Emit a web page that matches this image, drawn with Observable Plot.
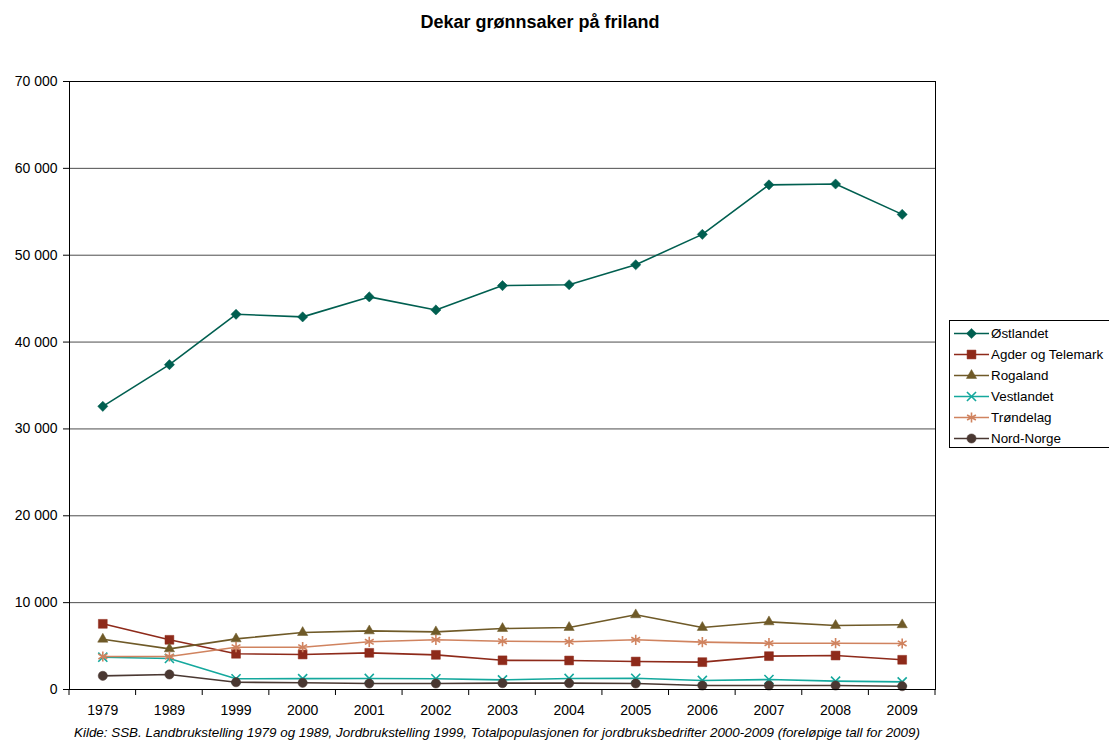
<!DOCTYPE html>
<html>
<head>
<meta charset="utf-8">
<script src="https://cdn.jsdelivr.net/npm/d3@7"></script>
<script src="https://cdn.jsdelivr.net/npm/@observablehq/plot@0.6"></script>
<style>
  body { margin: 0; background: #fff; font-family: "Liberation Sans", Arial, sans-serif; }
  #wrap { position: relative; width: 1109px; height: 742px; overflow: hidden; }
  #title { width: 1080px; height: 44px; line-height: 44px; text-align: center; font-weight: bold; font-size: 18px; color: #000; }
  #caption { height: 18px; line-height: 18px; padding-left: 74px; font-style: italic; font-size: 13.4px; color: #000; white-space: nowrap; }
  #legend { position: absolute; left: 949px; top: 320px; width: 160px; height: 128px; border: 1px solid #000; border-right: none; background: #fff; box-sizing: border-box; padding-top: 1.5px; }
  .row { display: flex; align-items: center; height: 21.1px; font-size: 13.4px; color: #000; }
  .row svg { display: block; margin-left: 3px; margin-right: 2px; }
</style>
</head>
<body>
<div id="wrap">
  <div id="title">Dekar grønnsaker på friland</div>
  <div id="chart"></div>
  <div id="caption">Kilde: SSB. Landbrukstelling 1979 og 1989, Jordbrukstelling 1999, Totalpopulasjonen for jordbruksbedrifter 2000-2009 (foreløpige tall for 2009)</div>
  <div id="legend"></div>
</div>
<script>
const years = ["1979","1989","1999","2000","2001","2002","2003","2004","2005","2006","2007","2008","2009"];
const ostlandet   = [32600, 37400, 43200, 42900, 45200, 43700, 46500, 46600, 48900, 52400, 58100, 58200, 54700];
const agder       = [7560, 5720, 4110, 4030, 4220, 3990, 3360, 3340, 3220, 3150, 3840, 3910, 3420];
const rogaland    = [5790, 4680, 5830, 6560, 6750, 6640, 7020, 7140, 8600, 7140, 7790, 7370, 7450];
const vestlandet  = [3720, 3570, 1230, 1250, 1270, 1230, 1110, 1270, 1290, 1040, 1150, 960, 880];
const trondelag   = [3800, 3800, 4870, 4870, 5490, 5720, 5560, 5490, 5720, 5450, 5330, 5330, 5300];
const nordNorge   = [1570, 1730, 840, 770, 690, 690, 730, 730, 690, 460, 460, 460, 380];
const seriesNames = ["Østlandet", "Agder og Telemark", "Rogaland", "Vestlandet", "Trøndelag", "Nord-Norge"];
const yTicks = [0, 10000, 20000, 30000, 40000, 50000, 60000, 70000];

const seriesValues = [ostlandet, agder, rogaland, vestlandet, trondelag, nordNorge];
const styles = [
  {color: "#005f50", symbol: "diamond2", r: 4.6, filled: true},
  {color: "#8e2a1a", symbol: "square", r: 5, filled: true},
  {color: "#6f5a28", symbol: "triangle", r: 3.8, filled: true},
  {color: "#14a89d", symbol: "times", r: 4.2, filled: false},
  {color: "#d0835f", symbol: "asterisk", r: 4.8, filled: false},
  {color: "#4a3832", symbol: "circle", r: 4.6, filled: true}
];

const fmt = d => d3.format(",")(d).replace(/,/g, " ");

const marks = [
  Plot.ruleY(yTicks.slice(1, -1), {stroke: "#4d4d4d", strokeWidth: 1})
];
seriesNames.forEach((name, i) => {
  const data = years.map((y, j) => ({year: y, value: seriesValues[i][j], series: name}));
  const s = styles[i];
  marks.push(Plot.line(data, {x: "year", y: "value", stroke: s.color, strokeWidth: 1.6}));
  marks.push(Plot.dot(data, {
    x: "year", y: "value", symbol: () => s.symbol, r: s.r,
    fill: s.filled ? s.color : "none", stroke: s.color, strokeWidth: s.filled ? 0.5 : 1.6
  }));
});
marks.push(Plot.frame({stroke: "#000", strokeWidth: 1}));

const chart = Plot.plot({
  width: 1109,
  height: 680,
  marginTop: 37,
  marginBottom: 35,
  marginLeft: 69,
  marginRight: 174,
  style: {fontFamily: "'Liberation Sans', Arial, sans-serif", fontSize: "14px", color: "#000", background: "#fff", overflow: "visible"},
  x: {type: "band", domain: years, padding: 0, round: false, label: null, tickSize: 0, tickPadding: 16},
  y: {domain: [0, 70000], ticks: yTicks, tickFormat: fmt, label: null, tickSize: 6, tickPadding: 6},
  symbol: {type: "identity"},
  marks
});
document.getElementById("chart").appendChild(chart);

// category boundary ticks on the x axis, placed through the x scale
const xs = chart.scale("x");
const ys = chart.scale("y");
const y0 = ys.apply(0);
const bounds = years.map(y => xs.apply(y)).concat([xs.apply(years[years.length - 1]) + xs.bandwidth]);
d3.select(chart).append("g")
  .selectAll("line").data(bounds).join("line")
  .attr("x1", d => d).attr("x2", d => d)
  .attr("y1", y0).attr("y2", y0 + 6)
  .attr("stroke", "#000");

// legend
const legend = d3.select("#legend");
seriesNames.forEach((name, i) => {
  const s = styles[i];
  const row = legend.append("div").attr("class", "row");
  const svg = row.append("svg").attr("width", 36).attr("height", 21);
  svg.append("line").attr("x1", 1).attr("x2", 36).attr("y1", 10.5).attr("y2", 10.5)
    .attr("stroke", s.color).attr("stroke-width", 1.6);
  const sym = {diamond2: d3.symbolDiamond2, square: d3.symbolSquare, triangle: d3.symbolTriangle,
               times: d3.symbolTimes, asterisk: d3.symbolAsterisk, circle: d3.symbolCircle}[s.symbol];
  svg.append("path").attr("transform", "translate(18.5,10.5)")
    .attr("d", d3.symbol(sym, Math.PI * s.r * s.r)())
    .attr("fill", s.filled ? s.color : "none").attr("stroke", s.color)
    .attr("stroke-width", s.filled ? 0.5 : 1.6);
  row.append("span").text(name);
});
</script>
</body>
</html>
